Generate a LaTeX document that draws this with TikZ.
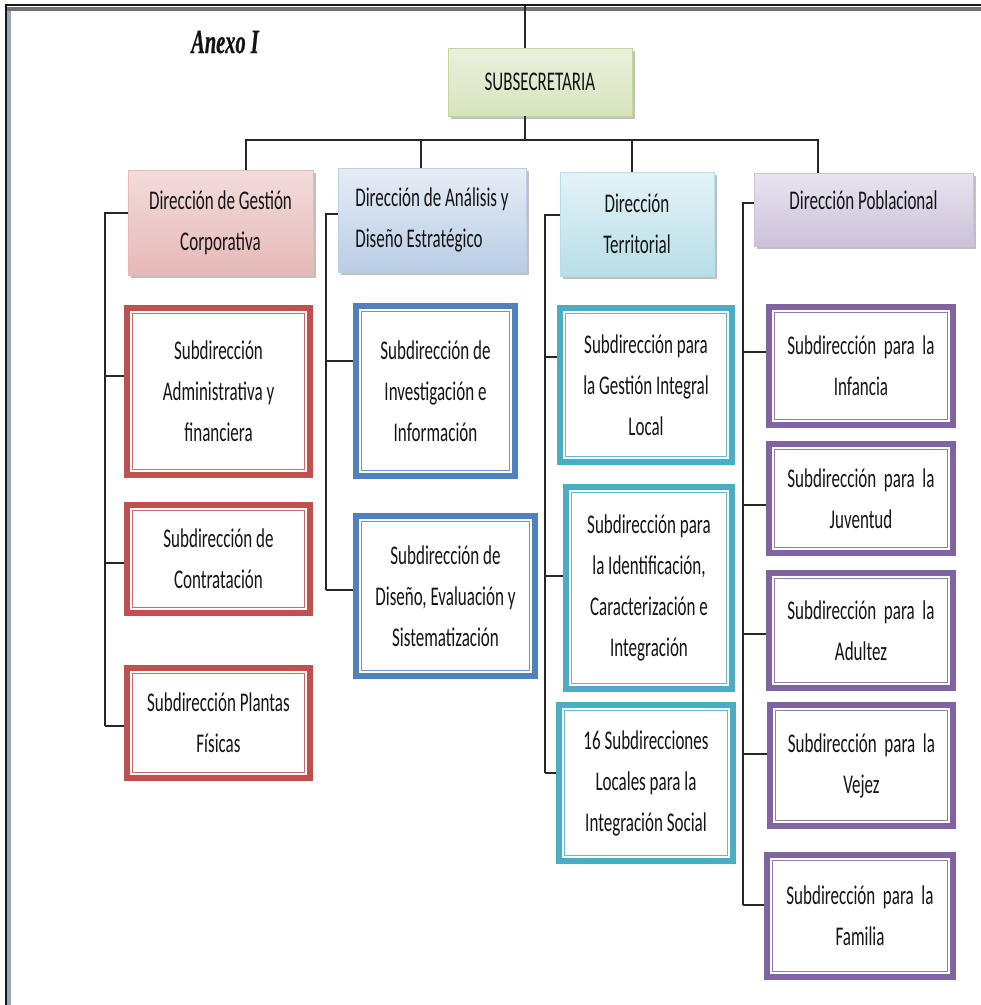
\documentclass[tikz,border=0pt]{standalone}
\usepackage{fontspec}
\setmainfont{Carlito}[FakeStretch=0.63]
\newfontfamily\anexofont{Liberation Serif}[FakeStretch=0.6, UprightFont=*-Bold Italic, FakeBold=0.6]
\usetikzlibrary{shadows}
\definecolor{cRed}{HTML}{C0504D}
\definecolor{cBlue}{HTML}{4F81BD}
\definecolor{cCyan}{HTML}{4BACC6}
\definecolor{cPurp}{HTML}{8064A2}
\definecolor{txt}{HTML}{141414}
\definecolor{frameblue}{HTML}{7A8FAF}
\definecolor{gBd}{HTML}{C3D69B}\definecolor{gT}{HTML}{EBF1DE}\definecolor{gM}{HTML}{E3ECD2}\definecolor{gB}{HTML}{D7E4BD}
\definecolor{rBd}{HTML}{E6B9B8}\definecolor{rT}{HTML}{F2DCDB}\definecolor{rM}{HTML}{F8EEEE}\definecolor{rB}{HTML}{E6B9B8}
\definecolor{bBd}{HTML}{B9CDE5}\definecolor{bT}{HTML}{E6EDF6}\definecolor{bM}{HTML}{F2F6FB}\definecolor{bB}{HTML}{B9CDE5}
\definecolor{tBd}{HTML}{B7DEE8}\definecolor{tT}{HTML}{E4F3F7}\definecolor{tM}{HTML}{F0F8FB}\definecolor{tB}{HTML}{B7DEE8}
\definecolor{pBd}{HTML}{CCC1DA}\definecolor{pT}{HTML}{E9E4EF}\definecolor{pM}{HTML}{EDE8F2}\definecolor{pB}{HTML}{CCC1DA}
\tikzset{
  txtfont/.style={font=\fontsize{27}{41}\selectfont, text=txt},
  conn/.style={draw=black!85, line width=1.3pt},
  dirbox/.style={draw=#1Bd, line width=0.8pt, top color=#1T, middle color=#1M, bottom color=#1B,
     rectangle, inner sep=2pt, outer sep=0pt, align=center, txtfont,
     drop shadow={shadow xshift=3pt, shadow yshift=-3pt, fill=black!45, opacity=0.55}},
  subbox/.style={draw=#1, line width=6.5pt, fill=white, rectangle, inner sep=2pt, align=center, txtfont,
     path picture={\draw[#1!85, line width=1.3pt]
        ([shift={(5.8pt,-5.8pt)}]path picture bounding box.north west) rectangle
        ([shift={(-5.8pt,5.8pt)}]path picture bounding box.south east);}},
}
\begin{document}
\begin{tikzpicture}[x=1pt, y=-1pt]
\useasboundingbox (0,0) rectangle (981,1005);
% frame
\fill[frameblue!80] (7,7) rectangle (11,1005);
\fill[black!55] (7,7) rectangle (981,11);
\draw[black!90, line width=2pt] (6,1005) -- (6,5) -- (981,5);

\node[font=\anexofont\fontsize{34}{40}\selectfont, text=txt] (anexo) at (225,42) {Anexo I};

% main node
\node[dirbox=g, minimum width=184pt, minimum height=68pt] (sub) at (540,82) {SUBSECRETARIA};

% directions
\node[dirbox=r, minimum width=185pt, minimum height=105pt] (dgc) at (220.5,222.5) {Dirección de Gestión\\Corporativa};
\node[dirbox=b, minimum width=188pt, minimum height=104pt, align=left] (dade) at (432,220) {Dirección de Análisis y\\Diseño Estratégico};
\node[dirbox=t, minimum width=154pt, minimum height=104pt] (dt) at (637,224) {Dirección\\Territorial};
\node[dirbox=p, minimum width=219pt, minimum height=73pt, text depth=18pt] (dp) at (863.5,209.5) {Dirección Poblacional};

% subdirections
\node[subbox=cRed, minimum width=183pt, minimum height=167pt] (sa) at (218.5,391.5) {Subdirección\\Administrativa y\\financiera};
\node[subbox=cRed, minimum width=183pt, minimum height=108pt] (sc) at (218.5,559) {Subdirección de\\Contratación};
\node[subbox=cRed, minimum width=183pt, minimum height=110pt] (sp) at (218.5,723) {Subdirección Plantas\\Físicas};

\node[subbox=cBlue, minimum width=159pt, minimum height=170pt] (sii) at (435.5,391) {Subdirección de\\Investigación e\\Información};
\node[subbox=cBlue, minimum width=179pt, minimum height=160pt] (sde) at (445.5,596) {Subdirección de\\Diseño, Evaluación y\\Sistematización};

\node[subbox=cCyan, minimum width=172pt, minimum height=154pt] (sgil) at (646,385) {Subdirección para\\la Gestión Integral\\Local};
\node[subbox=cCyan, minimum width=166pt, minimum height=202pt] (sici) at (649,588) {Subdirección para\\la Identificación,\\Caracterización e\\Integración};
\node[subbox=cCyan, minimum width=174pt, minimum height=156pt] (s16) at (646,783) {16 Subdirecciones\\Locales para la\\Integración Social};

\node[subbox=cPurp, minimum width=184pt, minimum height=118pt] (si) at (861,366) {Subdirección\ \ para\ \ la\\Infancia};
\node[subbox=cPurp, minimum width=184pt, minimum height=109pt] (sj) at (861,498.5) {Subdirección\ \ para\ \ la\\Juventud};
\node[subbox=cPurp, minimum width=184pt, minimum height=115pt] (sad) at (861,630.5) {Subdirección\ \ para\ \ la\\Adultez};
\node[subbox=cPurp, minimum width=183pt, minimum height=121pt] (sv) at (861.5,765.5) {Subdirección\ \ para\ \ la\\Vejez};
\node[subbox=cPurp, minimum width=186pt, minimum height=122pt] (sf) at (860,916) {Subdirección\ \ para\ \ la\\Familia};

% top connectors
\coordinate (frametop) at (525,6);
\coordinate (bar) at (525,140);
\draw[conn] (frametop) -- ([xshift=-15pt]sub.north);
\draw[conn] ([xshift=-15pt]sub.south) -- (bar);
\draw[conn] ([xshift=25.5pt]dgc.north) |- (bar) -| ([xshift=-45.5pt]dp.north);
\coordinate (dadetop) at ([xshift=-11pt]dade.north);
\draw[conn] (dadetop) -- (dadetop |- bar);
\coordinate (dttop) at ([xshift=-5pt]dt.north);
\draw[conn] (dttop) -- (dttop |- bar);

% DGC bus
\coordinate (dgcin) at ([yshift=9.5pt]dgc.west);
\coordinate (dgcbus) at (105,726);
\draw[conn] (dgcin) -| (dgcbus);
\coordinate (sain) at ([yshift=15.5pt]sa.west);
\coordinate (scin) at ([yshift=-4pt]sc.west);
\coordinate (spin) at ([yshift=-3pt]sp.west);
\foreach \n in {sain,scin,spin} \draw[conn] (\n) -- (\n -| dgcbus);

% DADE bus
\coordinate (dadein) at ([yshift=6pt]dade.west);
\coordinate (dadebus) at (326,590);
\draw[conn] (dadein) -| (dadebus);
\coordinate (siiin) at ([yshift=30pt]sii.west);
\coordinate (sdein) at ([yshift=6pt]sde.west);
\foreach \n in {siiin,sdein} \draw[conn] (\n) -- (\n -| dadebus);

% DT bus
\coordinate (dtin) at ([yshift=9pt]dt.west);
\coordinate (dtbus) at (545,773);
\draw[conn] (dtin) -| (dtbus);
\coordinate (sgilin) at ([yshift=28pt]sgil.west);
\coordinate (sicin) at ([yshift=12pt]sici.west);
\coordinate (s16in) at ([yshift=10pt]s16.west);
\foreach \n in {sgilin,sicin,s16in} \draw[conn] (\n) -- (\n -| dtbus);

% DP bus
\coordinate (dpin) at ([yshift=6.5pt]dp.west);
\coordinate (dpbus) at (743,905);
\draw[conn] (dpin) -| (dpbus);
\coordinate (siin) at ([yshift=14pt]si.west);
\coordinate (sjin) at ([yshift=-6.5pt]sj.west);
\coordinate (sadin) at ([yshift=-3.5pt]sad.west);
\coordinate (svin) at ([yshift=11.5pt]sv.west);
\coordinate (sfin) at ([yshift=11pt]sf.west);
\foreach \n in {siin,sjin,sadin,svin,sfin} \draw[conn] (\n) -- (\n -| dpbus);
\end{tikzpicture}
\end{document}
